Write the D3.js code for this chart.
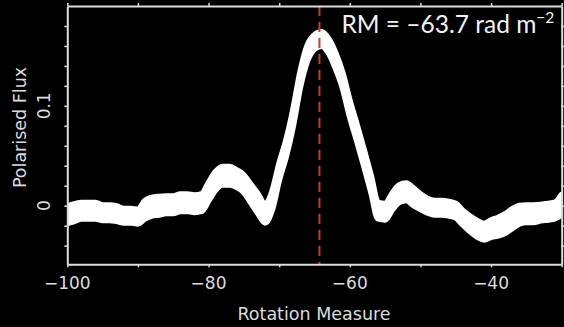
<!DOCTYPE html>
<html>
<head>
<meta charset="utf-8">
<script src="https://cdn.jsdelivr.net/npm/d3@7"></script>
<style>
  html, body { margin: 0; padding: 0; background: #000; }
  svg { display: block; }
</style>
</head>
<body>
<svg id="chart" width="564" height="327"></svg>
<script>
// ---- data ----
const rm = [-100,-99,-98,-97,-96,-95,-94,-93,-92,-91,-90,-89,-88,-87,-86,-85,-84,-83,-82,-81,
            -80,-79,-78,-77,-76,-75,-74,-73,-72,-71,-70,-69,-68,-67,-66,-65,-64,-63,-62,-61,
            -60,-59,-58,-57,-56,-55,-54,-53,-52,-51,-50,-49,-48,-47,-46,-45,-44,-43,-42,-41,
            -40,-39,-38,-37,-36,-35,-34,-33,-32,-31,-30];
const polFlux = [-0.009,-0.007,-0.005,-0.005,-0.005,-0.007,-0.007,-0.008,-0.010,-0.010,
                 -0.011,-0.004,-0.001,0.000,0.001,0.001,0.003,0.003,0.002,0.003,
                 0.014,0.025,0.030,0.030,0.027,0.022,0.012,0.002,-0.008,0.005,
                 0.034,0.058,0.089,0.127,0.153,0.164,0.167,0.160,0.145,0.125,
                 0.097,0.073,0.048,0.022,-0.005,-0.006,0.004,0.012,0.014,0.009,
                 0.004,0.000,-0.002,-0.002,-0.003,-0.005,-0.012,-0.018,-0.023,-0.026,
                 -0.023,-0.021,-0.018,-0.013,-0.009,-0.008,-0.008,-0.007,-0.006,-0.005,
                 0.001];
const fluxErr = [0.0085,0.0085,0.008,0.008,0.008,0.0075,0.0075,0.0075,0.007,0.007,
                 0.007,0.009,0.009,0.009,0.0085,0.0085,0.0085,0.0085,0.0085,0.0085,
                 0.009,0.009,0.009,0.009,0.0085,0.0085,0.009,0.0095,0.009,0.009,
                 0.008,0.008,0.008,0.0075,0.0075,0.007,0.007,0.007,0.0075,0.0075,
                 0.008,0.008,0.008,0.008,0.008,0.008,0.008,0.0085,0.0085,0.0085,
                 0.0075,0.007,0.007,0.007,0.007,0.007,0.007,0.0075,0.008,0.008,
                 0.0085,0.009,0.0095,0.0095,0.009,0.0085,0.0085,0.008,0.008,0.008,
                 0.010];
const xTicks = [-100,-90,-80,-70,-60,-50,-40,-30];
const xTickLabels = [-100,-80,-60,-40];
const yTicks = [-0.04,-0.02,0,0.02,0.04,0.06,0.08,0.1,0.12,0.14,0.16,0.18];
const yTickLabels = [0, 0.1];
const rmMarker = [-64.3];
const xTitle = "Rotation Measure";
const yTitle = "Polarised Flux";

// ---- layout ----
const svg = d3.select("#chart");
const pLeft = 67.3, pRight = 561.7, pTop = 6, pBottom = 264.3;
const x = d3.scaleLinear().domain([-100, -30]).range([pLeft, pRight]);
const y = d3.scaleLinear().domain([-0.0587, 0.2]).range([pBottom, pTop]);
const axisColor = "#dcdcdc";
const labelFont = "'DejaVu Sans', sans-serif";

svg.append("rect").attr("width", 564).attr("height", 327).attr("fill", "#000");

svg.append("clipPath").attr("id", "plotclip")
  .append("rect").attr("x", pLeft).attr("y", pTop)
  .attr("width", pRight - pLeft).attr("height", pBottom - pTop);

// ---- band ----
const data = rm.map((r, i) => ({ r, v: polFlux[i], e: fluxErr[i] }));
const area = d3.area()
  .x(d => x(d.r))
  .y0(d => y(d.v - d.e))
  .y1(d => y(d.v + d.e))
  .curve(d3.curveMonotoneX);

svg.append("g").attr("clip-path", "url(#plotclip)")
  .append("path")
  .datum(data)
  .attr("d", area)
  .attr("fill", "#ffffff")
  .attr("stroke", "#ffffff")
  .attr("stroke-width", 6)
  .attr("stroke-linejoin", "round");

// ---- marker line ----
svg.append("g").selectAll("line").data(rmMarker).join("line")
  .attr("x1", d => x(d)).attr("x2", d => x(d))
  .attr("y1", pTop).attr("y2", pBottom)
  .attr("stroke", "#d23434")
  .attr("stroke-width", 2)
  .attr("stroke-dasharray", "10,6");

// ---- axes ----
function styleAxis(g) {
  g.selectAll("path.domain").attr("stroke", axisColor).attr("stroke-width", 2);
  g.selectAll(".tick line").attr("stroke", axisColor).attr("stroke-width", 1.5);
  g.selectAll(".tick text").remove();
}
svg.append("g").attr("transform", `translate(0,${pBottom})`)
  .call(d3.axisBottom(x).tickValues(xTicks).tickSize(3).tickSizeOuter(0))
  .call(styleAxis);
svg.append("g").attr("transform", `translate(0,${pTop})`)
  .call(d3.axisTop(x).tickValues(xTicks).tickSize(3).tickSizeOuter(0))
  .call(styleAxis);
svg.append("g").attr("transform", `translate(${pLeft},0)`)
  .call(d3.axisLeft(y).tickValues(yTicks).tickSize(3).tickSizeOuter(0))
  .call(styleAxis);
svg.append("g").attr("transform", `translate(${pRight},0)`)
  .call(d3.axisRight(y).tickValues(yTicks).tickSize(3).tickSizeOuter(0))
  .call(styleAxis);

const fmt = d => (d < 0 ? "\u2212" + Math.abs(d) : String(d));

svg.append("g").selectAll("text").data(xTickLabels).join("text")
  .attr("x", d => x(d)).attr("y", 289)
  .attr("text-anchor", "middle")
  .attr("fill", axisColor)
  .attr("font-family", labelFont).attr("font-size", 17)
  .text(fmt);

svg.append("g").selectAll("text").data(yTickLabels).join("text")
  .attr("transform", d => `translate(50,${y(d)}) rotate(-90)`)
  .attr("text-anchor", "middle")
  .attr("fill", axisColor)
  .attr("font-family", labelFont).attr("font-size", 17)
  .text(d => String(d));

svg.append("text")
  .attr("x", (pLeft + pRight) / 2 - 0.5).attr("y", 320)
  .attr("text-anchor", "middle")
  .attr("fill", axisColor)
  .attr("font-family", labelFont).attr("font-size", 17.5)
  .text(xTitle);

svg.append("text")
  .attr("transform", `translate(25.5,127.5) rotate(-90)`)
  .attr("text-anchor", "middle")
  .attr("fill", axisColor)
  .attr("font-family", labelFont).attr("font-size", 17.5)
  .text(yTitle);

// ---- annotation ----
const ann = svg.append("text")
  .attr("x", 341.5).attr("y", 33)
  .attr("fill", "#f2f2f2")
  .attr("font-family", "Lato, 'Open Sans', sans-serif")
  .attr("font-size", 24.5);
ann.append("tspan").text("RM = \u201363.7 rad m");
ann.append("tspan").attr("dy", -10).attr("font-size", 15.5).text("\u22122");
</script>
</body>
</html>
